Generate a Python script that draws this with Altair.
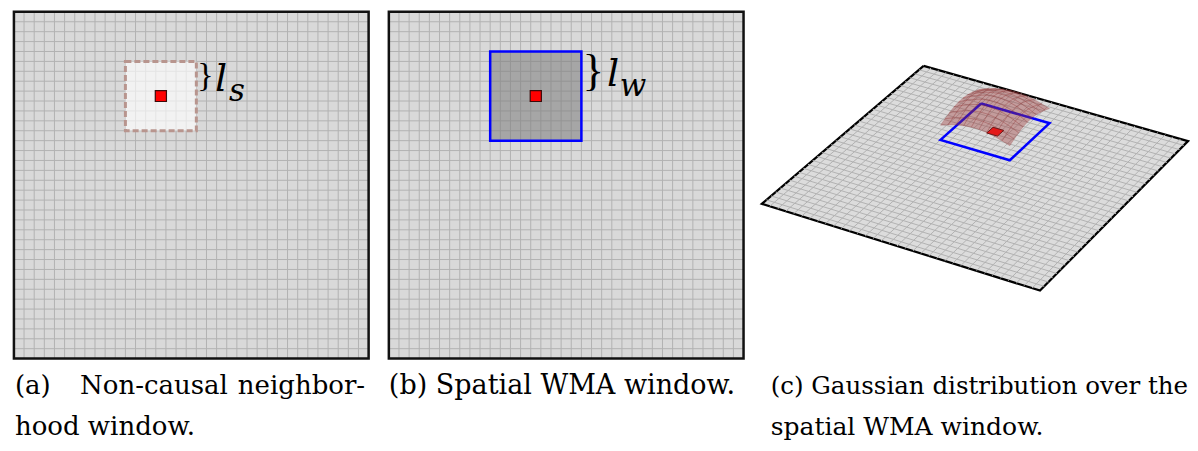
import altair as alt
import pandas as pd
import numpy as np

# ---------------- data ----------------
GRID_CELLS = 35            # cells per side of the 2-D lattice
CENTER_CELL = [14, 8]      # (column, row) of the red target cell
L_S = 3                    # half width of the non-causal neighbourhood window
L_W = 4                    # half width of the spatial WMA window
GAUSS_PEAK = 34            # height of the Gaussian dome at its peak
GAUSS_SIGMA = 5.0          # spread of the Gaussian, in cells
CAPTION_A = ["(a)", "Non-causal", "neighbor-", "hood window."]
CAPTION_B = ["(b) Spatial WMA window."]
CAPTION_C = ["(c) Gaussian distribution over the", "spatial WMA window."]
LABEL_S = ["l", "s"]
LABEL_W = ["l", "w"]

# ---------------- layout (pixels of the reference) ----------------
PANEL_LEFT = {"a": 6.0, "b": 386.0}
PANEL_TOP = 4.0
PANEL_SIZE = 359.5
CELL = PANEL_SIZE / GRID_CELLS
PLANE = {"top": (928.0, 60.0), "right": (1196.0, 138.0),
         "left": (764.0, 203.0), "bottom": (1046.0, 293.0)}

cc, cr = CENTER_CELL


def flat(panel, col, row):
    return PANEL_LEFT[panel] + col * CELL, PANEL_TOP + row * CELL


def plane(col, row):
    u, v = col / GRID_CELLS, row / GRID_CELLS
    (tx, ty), (rx, ry) = PLANE["top"], PLANE["right"]
    (lx, ly), (bx, by) = PLANE["left"], PLANE["bottom"]
    x = (1 - u) * (1 - v) * tx + u * (1 - v) * rx + (1 - u) * v * lx + u * v * bx
    y = (1 - u) * (1 - v) * ty + u * (1 - v) * ry + (1 - u) * v * ly + u * v * by
    return x, y


def rect_row(panel, c0, r0, c1, r1):
    x0, y0 = flat(panel, c0, r0)
    x1, y1 = flat(panel, c1, r1)
    return {"x": x0, "y": y0, "x2": x1, "y2": y1}


# panel backgrounds / borders
bg = pd.DataFrame([rect_row(p, 0, 0, GRID_CELLS, GRID_CELLS) for p in ["a", "b"]])

# flat grid lines
rows = []
for p in ["a", "b"]:
    for k in range(1, GRID_CELLS):
        x0, y0 = flat(p, k, 0)
        x1, y1 = flat(p, k, GRID_CELLS)
        rows.append({"x": x0, "y": y0, "x2": x1, "y2": y1})
        x0, y0 = flat(p, 0, k)
        x1, y1 = flat(p, GRID_CELLS, k)
        rows.append({"x": x0, "y": y0, "x2": x1, "y2": y1})
grid_flat = pd.DataFrame(rows)

win_a = pd.DataFrame([rect_row("a", cc - L_S, cr - L_S, cc + L_S + 1, cr + L_S + 1)])
win_b = pd.DataFrame([rect_row("b", cc - L_W, cr - L_W, cc + L_W + 1, cr + L_W + 1)])
red_flat = pd.DataFrame([rect_row(p, cc - 0.05, cr - 0.05, cc + 1.05, cr + 1.05)
                         for p in ["a", "b"]])


def quad(c0, r0, c1, r1, grp, lift=None):
    pts = [(c0, r0), (c1, r0), (c1, r1), (c0, r1), (c0, r0)]
    out = []
    for i, (c, r) in enumerate(pts):
        x, y = plane(c, r)
        if lift is not None:
            y -= lift(c, r)
        out.append({"x": x, "y": y, "ord": i, "grp": grp})
    return out


plane_poly = pd.DataFrame(quad(0, 0, GRID_CELLS, GRID_CELLS, "plane"))

rows = []
for k in range(1, GRID_CELLS):
    x0, y0 = plane(k, 0)
    x1, y1 = plane(k, GRID_CELLS)
    rows.append({"x": x0, "y": y0, "x2": x1, "y2": y1})
    x0, y0 = plane(0, k)
    x1, y1 = plane(GRID_CELLS, k)
    rows.append({"x": x0, "y": y0, "x2": x1, "y2": y1})
grid_plane = pd.DataFrame(rows)


def gauss(c, r):
    d2 = (c - (cc + 0.5)) ** 2 + (r - (cr + 0.5)) ** 2
    return GAUSS_PEAK * np.exp(-d2 / (2 * GAUSS_SIGMA ** 2))


rows = []
for i in range(cc - L_W, cc + L_W + 1):
    for j in range(cr - L_W, cr + L_W + 1):
        rows += quad(i, j, i + 1, j + 1, f"q{i:02d}_{j:02d}", lift=gauss)
dome = pd.DataFrame(rows)

blue_c = pd.DataFrame(quad(cc - L_W, cr - L_W, cc + L_W + 1, cr + L_W + 1, "win"))
red_c = pd.DataFrame(quad(cc - 0.2, cr - 0.2, cc + 1.2, cr + 1.2, "red"))

# ---------------- encodings ----------------
XS = alt.Scale(domain=[0, 1198], nice=False, zero=False)
YS = alt.Scale(domain=[0, 451], nice=False, zero=False, reverse=True)


def X(f="x"):
    return alt.X(f"{f}:Q", scale=XS, axis=None)


def Y(f="y"):
    return alt.Y(f"{f}:Q", scale=YS, axis=None)


def rects(df, **kw):
    return alt.Chart(df).mark_rect(**kw).encode(x=X(), x2="x2:Q", y=Y(), y2="y2:Q")


def rules(df, **kw):
    return alt.Chart(df).mark_rule(**kw).encode(x=X(), x2="x2:Q", y=Y(), y2="y2:Q")


def polys(df, **kw):
    return alt.Chart(df).mark_line(**kw).encode(
        x=X(), y=Y(), order="ord:Q", detail="grp:N")


def texts(df, **kw):
    return alt.Chart(df).mark_text(**kw).encode(x=X(), y=Y(), text="text:N")


GRID_COL = "#b2b2b2"

layers = [
    rects(bg, fill="#d9d9d9"),
    rules(grid_flat, stroke=GRID_COL, strokeWidth=1),
    rects(win_a, fill="#ffffff", fillOpacity=0.65),
    rects(win_a, fill="#ffffff", fillOpacity=0, stroke="#b8958e",
          strokeWidth=3, strokeDash=[6, 3]),
    rects(win_b, fill="#7f7f7f", fillOpacity=0.57, stroke="#0000ff", strokeWidth=2.5),
    rects(red_flat, fill="#ff0000", stroke="#3b0a0a", strokeWidth=1.2),
    rects(bg, fill="#ffffff", fillOpacity=0, stroke="#111111", strokeWidth=2.5),
    polys(plane_poly, fill="#dcdcdc", stroke="#000000", strokeWidth=2.2),
    rules(grid_plane, stroke=GRID_COL, strokeWidth=1),
    polys(blue_c, stroke="#0000ff", strokeWidth=2.5),
    polys(dome, fill="#9c3434", fillOpacity=0.38, stroke="#8a3030",
          strokeOpacity=0.3, strokeWidth=0.7),
    polys(red_c, fill="#e41a1a", stroke="#6a1a1a", strokeWidth=1),
]

# braces and window-size labels
bx_a, by_a = flat("a", cc + L_S + 1, cr - L_S)
bx_b, by_b = flat("b", cc + L_W + 1, cr - L_W)
brace_df_a = pd.DataFrame([{"x": bx_a + 1, "y": by_a + L_S * CELL / 2, "text": "}"}])
brace_df_b = pd.DataFrame([{"x": bx_b + 1, "y": by_b + L_W * CELL / 2, "text": "}"}])
layers += [
    texts(brace_df_a, align="left", baseline="middle", font="Liberation Serif",
          fontSize=34, color="#000000"),
    texts(brace_df_b, align="left", baseline="middle", font="Liberation Serif",
          fontSize=45, color="#000000"),
]
lab = pd.DataFrame([
    {"x": bx_a + 19, "y": 86, "text": LABEL_S[0]},
    {"x": bx_b + 26, "y": 81, "text": LABEL_W[0]},
])
sub = pd.DataFrame([
    {"x": bx_a + 33, "y": 96, "text": LABEL_S[1]},
    {"x": bx_b + 39, "y": 91, "text": LABEL_W[1]},
])
layers += [
    texts(lab, align="left", baseline="alphabetic", font="DejaVu Serif",
          fontStyle="italic", fontSize=38, color="#000000"),
    texts(sub, align="left", baseline="alphabetic", font="DejaVu Serif",
          fontStyle="italic", fontSize=31, color="#000000"),
]

LINE1_Y, LINE2_Y = 400, 443
cap_a = pd.DataFrame([
    {"x": 7, "y": LINE1_Y, "text": CAPTION_A[0]},
    {"x": 73, "y": LINE1_Y, "text": CAPTION_A[1]},
    {"x": 7, "y": LINE2_Y, "text": CAPTION_A[3]},
])
cap_a_r = pd.DataFrame([{"x": 362, "y": LINE1_Y, "text": CAPTION_A[2]}])
cap_b = pd.DataFrame([{"x": 386, "y": LINE1_Y, "text": CAPTION_B[0]}])
cap_c1 = pd.DataFrame([{"x": 773, "y": LINE1_Y, "text": CAPTION_C[0]}])
cap_c2 = pd.DataFrame([{"x": 773, "y": LINE2_Y, "text": CAPTION_C[1]}])
CAP_FONT = dict(baseline="alphabetic", font="DejaVu Serif", color="#000000")
layers += [
    texts(cap_a, align="left", fontSize=26, **CAP_FONT),
    texts(cap_a_r, align="right", fontSize=26, **CAP_FONT),
    texts(cap_b, align="left", fontSize=27, **CAP_FONT),
    texts(cap_c1, align="left", fontSize=24.5, **CAP_FONT),
    texts(cap_c2, align="left", fontSize=25, **CAP_FONT),
]

chart = alt.layer(*layers).properties(
    width=1182, height=435, padding=0,
    autosize=alt.AutoSizeParams(type="none"),
).configure_view(stroke=None)

chart.save("out.html", embed_options={"renderer": "svg", "actions": False})
